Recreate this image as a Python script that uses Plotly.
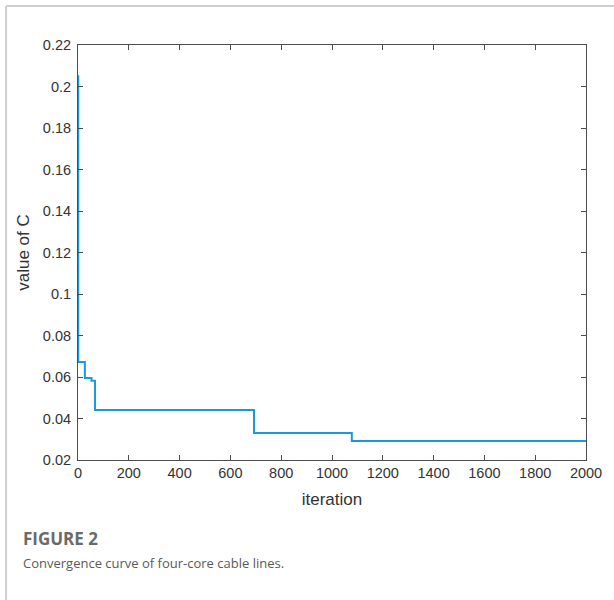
import plotly.graph_objects as go

iterations = [0, 1, 27, 53, 67, 693, 1078, 2000]
c_values = [0.205, 0.0672, 0.0595, 0.0582, 0.0441, 0.0330, 0.0292, 0.0292]

x_ticks = [0, 200, 400, 600, 800, 1000, 1200, 1400, 1600, 1800, 2000]
y_ticks = [0.02, 0.04, 0.06, 0.08, 0.10, 0.12, 0.14, 0.16, 0.18, 0.20, 0.22]
y_tick_text = ["0.02", "0.04", "0.06", "0.08", "0.1", "0.12", "0.14", "0.16", "0.18", "0.2", "0.22"]

W, H = 614, 600
L, R, T, B = 78, 24, 45, 140
pw, ph = W - L - R, H - T - B

def px(x):
    return (x - L) / pw

def py(y):
    return (H - B - y) / ph

fig = go.Figure()
fig.add_trace(go.Scatter(
    x=iterations, y=c_values, mode="lines",
    line=dict(color="#1b9ad8", width=2, shape="hv"),
    showlegend=False, hoverinfo="skip",
))

axis_common = dict(
    showgrid=False, zeroline=False, showline=True, linecolor="#4d4d4d", linewidth=1,
    mirror="ticks", ticks="inside", ticklen=5, tickcolor="#4d4d4d", tickwidth=1,
    tickfont=dict(family="Arial, Liberation Sans", size=14.5, color="#333333"),
)

fig.update_xaxes(range=[0, 2000], tickvals=x_ticks, ticktext=[str(v) for v in x_ticks],
                 title=dict(text="iteration", font=dict(family="Arial, Liberation Sans", size=17, color="#333333"), standoff=12),
                 **axis_common)
fig.update_yaxes(range=[0.02, 0.22], tickvals=y_ticks, ticktext=y_tick_text,
                 ticklabelstandoff=3,
                 title=dict(text="value of C", font=dict(family="Arial, Liberation Sans", size=17, color="#333333"), standoff=8),
                 **axis_common)

# light frame (top and left border of the figure panel)
fig.add_shape(type="line", xref="paper", yref="paper", layer="above",
              x0=px(5.5), x1=px(620), y0=py(6), y1=py(6),
              line=dict(color="#cfcfcf", width=2))
fig.add_shape(type="line", xref="paper", yref="paper", layer="above",
              x0=px(5.5), x1=px(5.5), y0=py(6), y1=py(610),
              line=dict(color="#cfcfcf", width=2))

fig.add_annotation(text="<b>FIGURE 2</b>", xref="paper", yref="paper",
                   x=px(21), y=py(538), xanchor="left", yanchor="middle", showarrow=False,
                   font=dict(family="Open Sans", size=17, color="#6a6a6a"))
fig.add_annotation(text="Convergence curve of four-core cable lines.", xref="paper", yref="paper",
                   x=px(21), y=py(563), xanchor="left", yanchor="middle", showarrow=False,
                   font=dict(family="Open Sans", size=13, color="#5a5a5a"))

fig.update_layout(
    width=W, height=H,
    margin=dict(l=L, r=R, t=T, b=B),
    paper_bgcolor="white", plot_bgcolor="white",
)

fig.write_html("out.html", config={"displayModeBar": False},
               post_script="document.body.style.margin='0';")
